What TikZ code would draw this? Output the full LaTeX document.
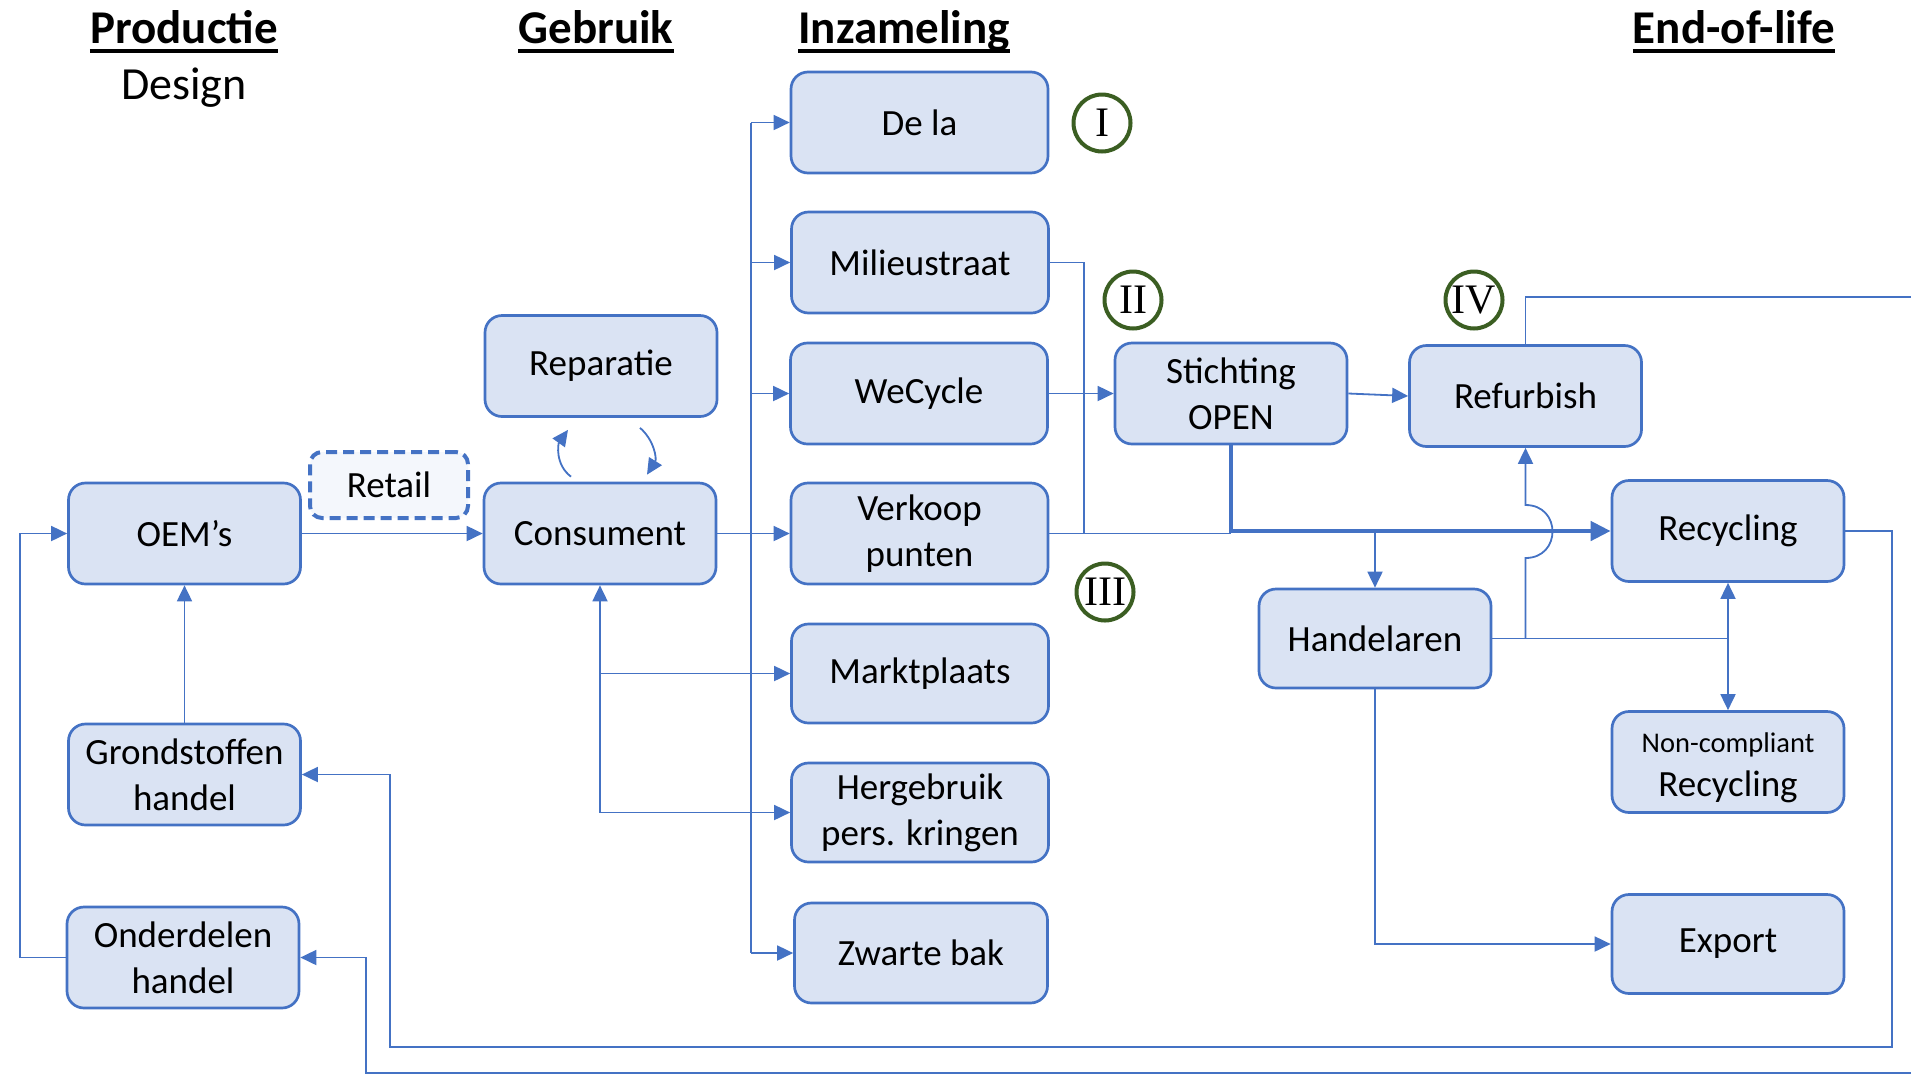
\documentclass[tikz,border=0pt]{standalone}
\usepackage{fontspec}
\setmainfont{Carlito}
\newfontfamily\numfont{Liberation Serif}
\usetikzlibrary{arrows.meta,calc}
\definecolor{lineblue}{HTML}{4472C4}
\definecolor{boxfill}{HTML}{DAE3F3}
\definecolor{retailfill}{HTML}{F4F7FC}
\definecolor{ringgreen}{HTML}{3B5E22}
\begin{document}
\begin{tikzpicture}[x=1pt,y=-1pt,
  box/.style={draw=lineblue, fill=boxfill, line width=2.7pt, rounded corners=17pt,
    align=center, inner sep=0pt, font=\fontsize{37}{46}\selectfont,
    minimum width=232pt, minimum height=101pt},
  cbox/.style={box, minimum width=257pt},
  retailbox/.style={draw=lineblue, fill=retailfill, line width=4pt, rounded corners=12pt,
    dash pattern=on 11pt off 6pt, inner sep=0pt, minimum width=158pt, minimum height=66pt,
    font=\fontsize{37}{44}\selectfont},
  title/.style={font=\fontsize{47}{56}\selectfont\bfseries, inner sep=0pt, anchor=base},
  uline/.style={line width=3.5pt, black},
  ring/.style={circle, draw=ringgreen, fill=white, line width=4pt, minimum size=57pt,
    inner sep=0pt, font=\numfont\fontsize{42}{42}\selectfont},
  arr/.style={draw=lineblue, line width=1.8pt, -{Triangle[length=16pt,width=15pt]}},
  conn/.style={draw=lineblue, line width=1.8pt},
  thickarr/.style={draw=lineblue, line width=4.5pt, -{Triangle[length=20pt,width=19pt]}}
]
\fill[white] (0,0) rectangle (1911,1077);
\useasboundingbox (0,0) rectangle (1911,1077);

% titles
\node[title] (tprod) at (184,43) {Productie};
\node[title] (tgebr) at (596,43) {Gebruik};
\node[title] (tinz) at (904,43) {Inzameling};
\node[title] (teol) at (1734,43) {End-of-life};
\foreach \t in {tprod,tgebr,tinz,teol}
  \draw[uline] ([yshift=-8pt]\t.base west) -- ([yshift=-8pt]\t.base east);
\node[font=\fontsize{46}{52}\selectfont, inner sep=0pt, anchor=base] (design) at (184,99) {Design};

% production / use
\node[box] (oem) at (184.5,533.5) {OEM’s};
\node[retailbox] (retail) at (389,485) {Retail};
\node[box] (cons) at (600,533.5) {Consument};
\node[box] (rep) at (601,366) {Reparatie};
\node[box] (grond) at (184.5,774.5) {Grondstoffen\\handel};
\node[box] (onder) at (183,957.5) {Onderdelen\\handel};

% collection
\node[cbox] (dela) at (919.5,122.5) {De la};
\node[cbox] (mil) at (920,262.5) {Milieustraat};
\node[cbox] (wec) at (919,393.5) {WeCycle};
\node[cbox] (verk) at (919.5,533.5) {Verkoop\\punten};
\node[cbox, minimum height=99pt] (markt) at (920,673.5) {Marktplaats};
\node[cbox, minimum height=99pt] (herg) at (920,812.5) {Hergebruik\\pers. kringen};
\node[cbox, minimum width=253pt, minimum height=100pt] (zwart) at (921,953) {Zwarte bak};

% end of life
\node[box] (stich) at (1231,393.5) {Stichting\\OPEN};
\node[box] (refurb) at (1525.5,396) {Refurbish};
\node[box] (recyc) at (1728,531) {Recycling};
\node[box, minimum height=99pt] (handel) at (1375,638.5) {Handelaren};
\node[box] (noncomp) at (1728,762) {};
\node[align=center, inner sep=0pt, font=\fontsize{37}{44}\selectfont] (noncompT) at ($(noncomp.center)+(0,6)$)
  {{\fontsize{28.5}{44}\selectfont Non-compliant}\\Recycling};
\node[box, minimum height=99pt] (export) at (1728,944) {Export};

% rings
\node[ring] (r1) at (1102,123) {I};
\node[ring] (r2) at (1133,300) {II};
\node[ring] (r3) at (1105,592) {III};
\node[ring] (r4) at (1474,300) {IV};

% production connectors
\draw[arr] (oem.east) -- (cons.west);
\draw[arr] (onder.west) -- ++(-46,0) |- (oem.west);
\draw[arr] (grond.north) -- (oem.south);

% repair loop
\draw[arr] ($(cons.north)+(-29,-5)$) .. controls +(-16,-12) and +(-10,14) .. ($(rep.south)+(-33,12)$);
\draw[arr] ($(rep.south)+(39,10)$) .. controls +(14,12) and +(10,-16) .. ($(cons.north)+(47,-7)$);

% consumer to collection
\draw[arr] (cons.east) -- (verk.west);
\coordinate (busT) at (751,122.5);
\coordinate (busB) at (751,953);
\draw[conn] (busT) -- (busB);
\draw[arr] (busT) -- (dela.west);
\draw[arr] (busT |- mil.west) -- (mil.west);
\draw[arr] (busT |- wec.west) -- (wec.west);
\draw[arr] (busB) -- (zwart.west);
\draw[arr] (cons.south |- markt.west) -- (cons.south);
\draw[conn] (cons.south |- herg.west) -- (cons.south |- markt.west);
\draw[arr] (cons.south |- markt.west) -- (markt.west);
\draw[arr] (cons.south |- herg.west) -- (herg.west);

% collection to end of life
\draw[conn] (mil.east) -- ++(34,0) coordinate (mj) -- (mj |- verk.east);
\draw[arr] (wec.east) -- (stich.west);
\draw[conn] (verk.east) -- (stich.south |- verk.east);
\draw[thickarr] (stich.south) |- (recyc.west);
\draw[arr] (stich.east) -- (refurb.west);
\draw[arr] (handel.north |- recyc.west) -- (handel.north);

% traders
\draw[conn] (handel.east) -- (recyc.south |- handel.east);
\draw[arr] (recyc.south |- handel.east) -- (recyc.south);
\draw[arr] (recyc.south |- handel.east) -- (noncomp.north);
\coordinate (hopB) at (1525.5,558);
\coordinate (hopT) at (1525.5,505);
\draw[arr] (refurb.south |- handel.east) -- (hopB) .. controls +(36,0) and +(36,0) .. (hopT) -- (refurb.south);
\draw[arr] (handel.south) |- (export.west);

% return loops
\draw[arr] (recyc.east) -- (1892,531) -- (1892,1047) -- (390,1047) |- (grond.east);
\coordinate (eTop) at (1911,297);
\coordinate (eBot) at (1911,1073);
\draw[conn] (refurb.north) |- (eTop);
\draw[arr] (eBot) -- (366,1073) |- (onder.east);
\end{tikzpicture}
\end{document}
